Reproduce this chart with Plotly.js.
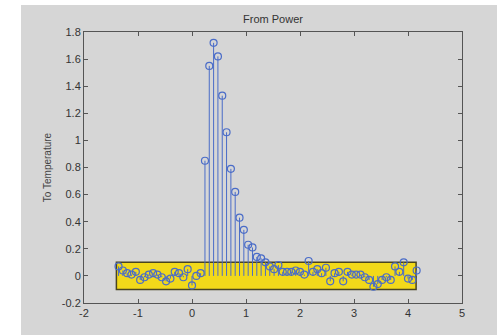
<!DOCTYPE html>
<html>
<head>
<meta charset="utf-8">
<script src="https://cdn.plot.ly/plotly-3.0.1.min.js"></script>
<style>html,body{margin:0;padding:0;background:#fff;}#chart{width:500px;height:335px;}</style>
</head>
<body>
<div id="chart"></div>
<script>
// Time lags (x) and response values (y)
var lagX = [-1.36,-1.28,-1.20,-1.12,-1.04,-0.96,-0.88,-0.80,-0.72,-0.64,
            -0.56,-0.48,-0.40,-0.32,-0.24,-0.16,-0.08,0.00,0.08,0.16,
            0.24,0.32,0.40,0.48,0.56,0.64,0.72,0.80,0.88,0.96,
            1.04,1.12,1.20,1.28,1.36,1.44,1.52,1.60,1.68,1.76,
            1.84,1.92,2.00,2.08,2.16,2.24,2.32,2.40,2.48,2.56,
            2.64,2.72,2.80,2.88,2.96,3.04,3.12,3.20,3.28,3.36,
            3.44,3.52,3.60,3.68,3.76,3.84,3.92,4.00,4.08,4.16];
var respY = [0.07,0.04,0.02,0.01,0.03,-0.03,-0.01,0.01,0.02,0.01,
             -0.01,-0.04,-0.02,0.03,0.02,-0.01,0.05,-0.07,0.00,0.02,
             0.85,1.55,1.72,1.62,1.33,1.06,0.79,0.62,0.43,0.34,
             0.23,0.21,0.14,0.13,0.10,0.07,0.05,0.08,0.03,0.03,
             0.03,0.04,0.03,0.01,0.11,0.03,0.05,0.02,0.06,-0.04,
             0.02,0.03,-0.04,0.03,0.01,0.01,0.01,-0.01,-0.03,-0.08,
             -0.06,-0.03,-0.01,-0.03,0.07,0.03,0.10,-0.02,-0.03,0.04];
// Confidence band bounds
var bandX = [-1.4, 4.15];
var bandY = [-0.1, 0.1];
var xTicks = [-2,-1,0,1,2,3,4,5];
var yTicks = [-0.2,0,0.2,0.4,0.6,0.8,1,1.2,1.4,1.6,1.8];
var yTickText = ['-0.2','0','0.2','0.4','0.6','0.8','1','1.2','1.4','1.6','1.8'];

var stemX = [], stemY = [];
for (var i = 0; i < lagX.length; i++) {
  stemX.push(lagX[i], lagX[i], null);
  stemY.push(0, respY[i], null);
}
var blue = '#4a6cc8';
var traces = [
  {x: stemX, y: stemY, mode: 'lines', type: 'scatter', line: {color: blue, width: 1}, hoverinfo: 'skip', showlegend: false},
  {x: lagX, y: respY, mode: 'markers', type: 'scatter',
   marker: {symbol: 'circle-open', size: 7, color: blue, line: {width: 1.2, color: blue}}, showlegend: false}
];
var axisCommon = {showline: true, mirror: 'ticks', linecolor: '#555', linewidth: 1,
  ticks: 'inside', ticklen: 4, tickcolor: '#555', showgrid: false, zeroline: false,
  tickfont: {family: 'Liberation Sans, Arial, sans-serif', size: 11, color: '#333'}};
var layout = {
  width: 500, height: 335,
  margin: {l: 84, r: 38, t: 32, b: 32},
  paper_bgcolor: '#ffffff',
  plot_bgcolor: '#f8f8f8',
  title: {text: 'From Power', x: 0.5, xref: 'paper', y: 0.955, yref: 'container',
          font: {family: 'Liberation Sans, Arial, sans-serif', size: 11, color: '#333'}},
  xaxis: Object.assign({}, axisCommon, {range: [-2, 5], tickvals: xTicks, ticktext: xTicks.map(String)}),
  yaxis: Object.assign({}, axisCommon, {range: [-0.2, 1.8], tickvals: yTicks, ticktext: yTickText,
    title: {text: 'To Temperature', standoff: 8, font: {family: 'Liberation Sans, Arial, sans-serif', size: 10, color: '#444'}}}),
  shapes: [
    {type: 'rect', xref: 'paper', yref: 'paper', x0: -0.1667, x1: 1.0926, y0: -0.12, y1: 1.0996,
     fillcolor: '#d6d6d6', line: {width: 0}, layer: 'below'},
    {type: 'rect', xref: 'x', yref: 'y', x0: bandX[0], x1: bandX[1], y0: bandY[0], y1: bandY[1],
     fillcolor: '#f2d91a', line: {color: '#4a4520', width: 1.5}, layer: 'below'}
  ]
};
Plotly.newPlot('chart', traces, layout, {staticPlot: true, displayModeBar: false});
</script>
</body>
</html>
